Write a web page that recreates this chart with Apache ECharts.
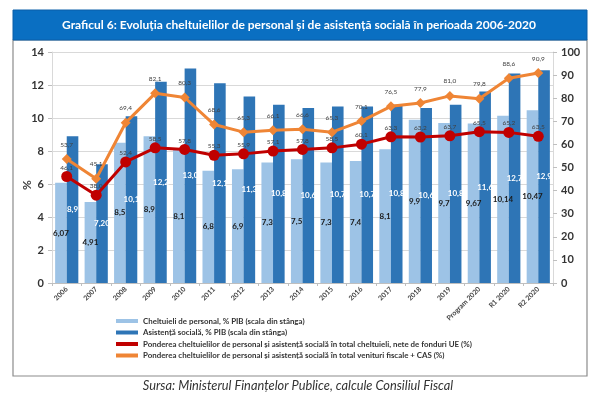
<!DOCTYPE html>
<html><head><meta charset="utf-8">
<script src="https://cdn.jsdelivr.net/npm/echarts@6/dist/echarts.min.js"></script>
<style>html,body{margin:0;padding:0;background:#fff}#c{width:600px;height:395px}</style>
</head><body><div id="c"></div>
<script>
const categories = ['2006','2007','2008','2009','2010','2011','2012','2013','2014','2015','2016','2017','2018','2019','Program 2020','R1 2020','R2 2020'];
const personal = [6.07,4.91,8.5,8.9,8.1,6.8,6.9,7.3,7.5,7.3,7.4,8.1,9.9,9.7,9.67,10.14,10.47];
const personalLabels = ['6,07','4,91','8,5','8,9','8,1','6,8','6,9','7,3','7,5','7,3','7,4','8,1','9,9','9,7','9,67','10,14','10,47'];
const social = [8.9,7.2,10.1,12.2,13.0,12.1,11.3,10.8,10.6,10.7,10.7,10.8,10.6,10.8,11.6,12.7,12.9];
const socialLabels = ['8,9','7,20','10,1','12,2','13,0','12,1','11,3','10,8','10,6','10,7','10,7','10,8','10,6','10,8','11,6','12,7','12,9'];
const shareExpenditure = [46.1,38.0,52.4,58.5,57.8,55.3,55.9,57.1,57.8,58.5,60.1,63.3,63.2,63.7,65.5,65.2,63.5];
const shareRevenue = [53.7,45.1,69.4,82.1,80.3,68.6,65.3,66.1,66.6,65.3,70.1,76.5,77.9,81.0,79.8,88.6,90.9];
const leftTicks = [0,2,4,6,8,10,12,14];
const rightTicks = [0,10,20,30,40,50,60,70,80,90,100];

const names = [
  'Cheltuieli de personal, % PIB (scala din stânga)',
  'Asistență socială, % PIB (scala din stânga)',
  'Ponderea cheltuielilor de personal și asistență socială în total cheltuieli, nete de fonduri UE (%)',
  'Ponderea cheltuielilor de personal și asistență socială în total venituri fiscale + CAS (%)'
];
const FONT = 'Lato, "Open Sans", sans-serif';
const fmtLine = p => p.value.toFixed(1).replace('.', ',');

const chart = echarts.init(document.getElementById('c'), null, {renderer:'canvas'});
chart.setOption({
  animation: false,
  textStyle: {fontFamily: FONT},
  graphic: [
    {type:'rect', shape:{x:13, y:40, width:574, height:336}, style:{fill:'none', stroke:'#8c8c8c', lineWidth:1.2}, z:-1},
    {type:'rect', shape:{x:13, y:10, width:574, height:30}, style:{fill:'#0a6fc2', stroke:'#0a5fa8', lineWidth:1}},
    {type:'text', x:299, y:25, style:{text:'Graficul 6: Evoluția cheltuielilor de personal și de asistență socială în perioada 2006-2020', fill:'#fff', font:'bold 12px ' + FONT, textAlign:'center', textVerticalAlign:'middle'}},
    {type:'text', x:298, y:386, style:{text:'Sursa: Ministerul Finanțelor Publice, calcule Consiliul Fiscal', fill:'#333', font:'italic 12.8px ' + FONT, textAlign:'center', textVerticalAlign:'middle'}},
    {type:'text', x:27, y:185, rotation:Math.PI/2, style:{text:'%', fill:'#404040', font:'bold 12px ' + FONT, textAlign:'center', textVerticalAlign:'middle'}}
  ],
  grid: {left:52, right:47, top:52, bottom:112, containLabel:false},
  legend: {
    orient:'vertical', left:111, top:311, itemWidth:22, itemHeight:4, itemGap:1.5,
    textStyle:{fontSize:7.9, fontWeight:'bold', color:'#333', lineHeight:10, fontFamily:FONT},
    data:[
      {name:names[0], icon:'rect'},
      {name:names[1], icon:'rect'},
      {name:names[2], icon:'rect'},
      {name:names[3], icon:'rect'}
    ]
  },
  xAxis: {
    type:'category', data:categories, boundaryGap:true,
    axisLine:{lineStyle:{color:'#bfbfbf'}},
    axisTick:{show:true, length:3, lineStyle:{color:'#bfbfbf'}},
    axisLabel:{rotate:45, fontSize:7, fontWeight:'bold', color:'#404040', margin:5, interval:0}
  },
  yAxis: [
    {type:'value', min:0, max:14, interval:2,
     axisLine:{show:true, lineStyle:{color:'#d9d9d9'}},
     axisTick:{show:true, length:4, lineStyle:{color:'#bfbfbf'}},
     axisLabel:{fontSize:11, fontWeight:'bold', color:'#333', margin:8, formatter: v => leftTicks.includes(v) ? String(v) : ''},
     splitLine:{lineStyle:{color:'#d9d9d9'}}},
    {type:'value', min:0, max:100, interval:10,
     axisLine:{show:true, lineStyle:{color:'#d9d9d9'}},
     axisTick:{show:true, length:4, lineStyle:{color:'#bfbfbf'}},
     axisLabel:{fontSize:11, fontWeight:'bold', color:'#333', margin:8, formatter: v => rightTicks.includes(v) ? String(v) : ''},
     splitLine:{show:false}}
  ],
  series: [
    {name:names[0], type:'bar', data:personal, barWidth:11.6, barGap:'0%', itemStyle:{color:'#9dc3e6'},
     label:{show:true, position:'inside', fontSize:8, fontWeight:'bold', color:'#1a1a1a', formatter:p => personalLabels[p.dataIndex]}},
    {name:names[1], type:'bar', data:social, barWidth:11.6, barGap:'0%', itemStyle:{color:'#2e75b6'},
     label:{show:true, position:'inside', fontSize:8, fontWeight:'bold', color:'#ffffff', formatter:p => socialLabels[p.dataIndex]}},
    {name:names[2], type:'line', yAxisIndex:1, data:shareExpenditure, symbol:'circle', symbolSize:11,
     lineStyle:{color:'#c00000', width:3}, itemStyle:{color:'#c00000'}, z:5,
     label:{show:true, position:'top', distance:0, fontSize:6.5, color:'#404040', formatter:fmtLine}},
    {name:names[3], type:'line', yAxisIndex:1, data:shareRevenue, symbol:'diamond', symbolSize:10,
     lineStyle:{color:'#ef8535', width:3}, itemStyle:{color:'#ef8535'}, z:6,
     label:{show:true, position:'top', distance:6, fontSize:6.5, color:'#404040', formatter:fmtLine}}
  ]
});
</script></body></html>
